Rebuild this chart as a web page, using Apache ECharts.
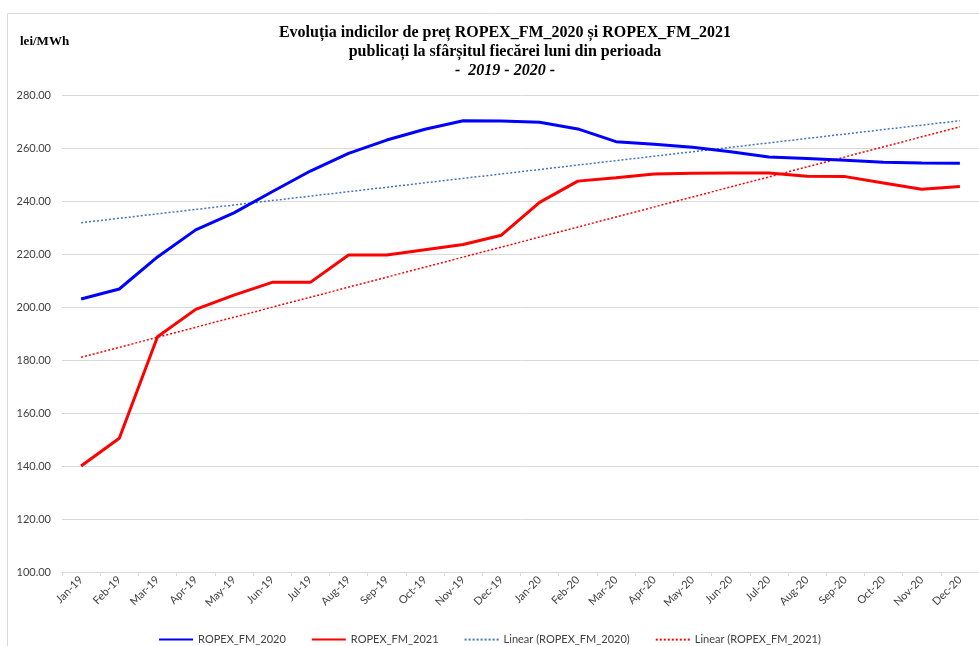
<!DOCTYPE html>
<html>
<head>
<meta charset="utf-8">
<script src="https://cdn.jsdelivr.net/npm/echarts@6/dist/echarts.min.js"></script>
<style>
  html, body { margin: 0; padding: 0; background: #fff; }
  #chart { width: 979px; height: 646px; }
</style>
</head>
<body>
<div id="chart"></div>
<script>
// categorii (luni) si valori
var months = ['Jan-19', 'Feb-19', 'Mar-19', 'Apr-19', 'May-19', 'Jun-19', 'Jul-19', 'Aug-19',
  'Sep-19', 'Oct-19', 'Nov-19', 'Dec-19', 'Jan-20', 'Feb-20', 'Mar-20', 'Apr-20', 'May-20',
  'Jun-20', 'Jul-20', 'Aug-20', 'Sep-20', 'Oct-20', 'Nov-20', 'Dec-20'];

var ropex2020 = [203.0, 206.8, 218.9, 229.1, 235.5, 243.5, 251.3, 258.0, 263.0, 267.1, 270.3, 270.2,
  269.7, 267.2, 262.4, 261.4, 260.3, 258.6, 256.6, 256.0, 255.4, 254.6, 254.3, 254.2];

var ropex2021 = [140.0, 150.5, 188.8, 199.1, 204.5, 209.3, 209.3, 219.6, 219.6, 221.6, 223.6, 227.1,
  239.5, 247.5, 248.8, 250.2, 250.5, 250.6, 250.6, 249.3, 249.2, 246.8, 244.4, 245.5];

// capetele liniilor de tendinta
var trend2020 = [['Jan-19', 231.8], ['Dec-20', 270.3]];
var trend2021 = [['Jan-19', 181.0], ['Dec-20', 268.0]];

var yTicks = { min: 100, max: 280, step: 20 };

(function () {
  var chart = echarts.init(document.getElementById('chart'), null, { renderer: 'canvas' });
  var ink = '#404040';
  var rule = '#d9d9d9';
  var labelFont = 'Lato, "Open Sans", sans-serif';
  var serif = '"Liberation Serif", "DejaVu Serif", serif';

  chart.setOption({
    animation: false,
    backgroundColor: '#fff',
    title: {
      text: 'Evoluția indicilor de preț ROPEX_FM_2020 și ROPEX_FM_2021\npublicați la sfârșitul fiecărei luni din perioada\n{i|-  2019 - 2020 -}',
      left: 500,
      top: 18,
      textAlign: 'center',
      textStyle: {
        fontFamily: serif,
        fontWeight: 'bold',
        fontSize: 16,
        lineHeight: 19,
        color: '#000',
        rich: {
          i: {
            fontFamily: serif,
            fontWeight: 'bold',
            fontStyle: 'italic',
            fontSize: 16,
            lineHeight: 19,
            color: '#000'
          }
        }
      }
    },
    graphic: [
      {
        type: 'rect',
        shape: { x: 7.5, y: 13.5, width: 1000, height: 700 },
        style: { fill: 'none', stroke: rule, lineWidth: 1 },
        silent: true
      },
      {
        type: 'text',
        left: 20,
        top: 35,
        style: {
          text: 'lei/MWh',
          font: 'bold 13px "Liberation Serif", serif',
          fill: '#000'
        }
      }
    ],
    legend: {
      top: 629,
      left: 'center',
      itemWidth: 34,
      itemHeight: 14,
      itemGap: 25,
      itemStyle: { opacity: 0 },
      textStyle: { color: ink, fontSize: 11, fontFamily: labelFont },
      data: ['ROPEX_FM_2020', 'ROPEX_FM_2021', 'Linear (ROPEX_FM_2020)', 'Linear (ROPEX_FM_2021)']
    },
    grid: { left: 62, right: 0, top: 95, bottom: 74 },
    xAxis: {
      type: 'category',
      data: months,
      boundaryGap: true,
      axisLine: { lineStyle: { color: rule, width: 1 } },
      axisTick: { show: true, length: 4, lineStyle: { color: rule } },
      axisLabel: {
        rotate: 45,
        color: ink,
        fontSize: 11,
        fontFamily: labelFont,
        margin: 6,
        interval: 0
      },
      splitLine: { show: false }
    },
    yAxis: {
      type: 'value',
      min: yTicks.min,
      max: yTicks.max,
      interval: yTicks.step,
      axisLine: { show: false },
      axisTick: { show: false },
      axisLabel: {
        color: ink,
        fontSize: 11,
        fontFamily: labelFont,
        margin: 11,
        formatter: function (v) { return v.toFixed(2); }
      },
      splitLine: { lineStyle: { color: rule, width: 1 } }
    },
    series: [
      {
        name: 'ROPEX_FM_2020',
        type: 'line',
        data: ropex2020,
        symbol: 'none',
        lineStyle: { color: '#0000ff', width: 3 },
        itemStyle: { color: '#0000ff' },
        z: 4
      },
      {
        name: 'ROPEX_FM_2021',
        type: 'line',
        data: ropex2021,
        symbol: 'none',
        lineStyle: { color: '#ff0000', width: 3 },
        itemStyle: { color: '#ff0000' },
        z: 4
      },
      {
        name: 'Linear (ROPEX_FM_2020)',
        type: 'line',
        data: trend2020,
        symbol: 'none',
        lineStyle: { color: '#4472c4', width: 1.5, type: [2, 2] },
        itemStyle: { color: '#4472c4' },
        z: 3
      },
      {
        name: 'Linear (ROPEX_FM_2021)',
        type: 'line',
        data: trend2021,
        symbol: 'none',
        lineStyle: { color: '#ff0000', width: 1.5, type: [2, 2] },
        itemStyle: { color: '#ff0000' },
        z: 3
      }
    ]
  });
})();
</script>
</body>
</html>
